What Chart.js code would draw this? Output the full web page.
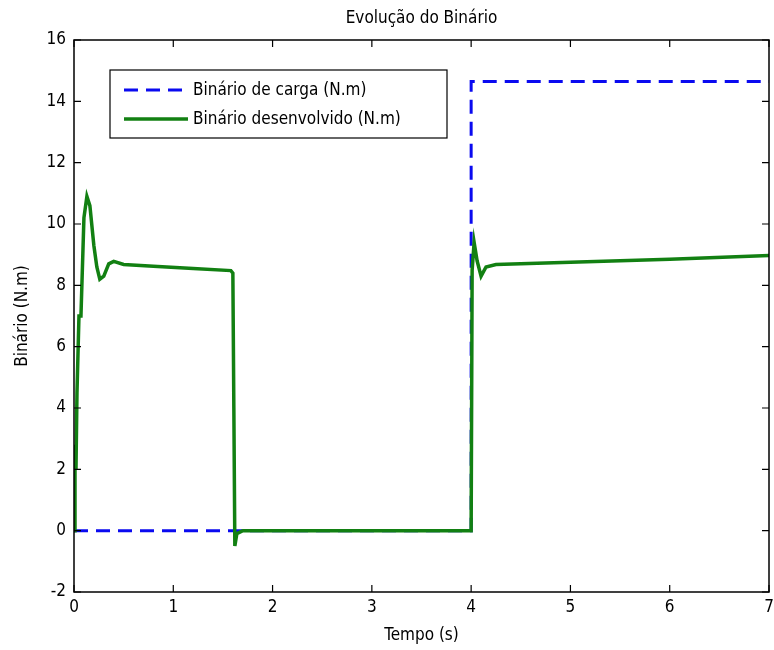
<!DOCTYPE html>
<html>
<head>
<meta charset="utf-8">
<script src="https://cdn.jsdelivr.net/npm/chart.js@4.4.1/dist/chart.umd.min.js"></script>
<style>
  html, body { margin: 0; padding: 0; background: #fff; }
  canvas { display: block; }
</style>
</head>
<body>
<canvas id="binario" width="774" height="650"></canvas>
<script>
const FONT = '"Liberation Sans Narrow", "DejaVu Sans Condensed", "Liberation Sans", sans-serif';

// tempo (s) e binário de carga (N.m)
const cargaTempo = [0, 4.0, 4.0, 7];
const cargaValor = [0, 0, 14.65, 14.65];

// tempo (s) e binário desenvolvido (N.m)
const motorTempo = [0, 0.01, 0.02, 0.03, 0.05, 0.07, 0.1, 0.13, 0.16, 0.2, 0.23, 0.26, 0.3, 0.35, 0.4,
  0.5, 0.8, 1.2, 1.58, 1.6, 1.61, 1.62, 1.64, 1.7, 4.0, 4.01, 4.03, 4.06, 4.1, 4.15, 4.25, 5, 6, 7];
const motorValor = [0, 2.8, 2.0, 4.5, 7.0, 7.0, 10.2, 10.9, 10.6, 9.3, 8.6, 8.2, 8.3, 8.7, 8.78,
  8.68, 8.62, 8.55, 8.48, 8.4, 4.0, -0.5, -0.1, 0, 0, 8.5, 9.4, 8.8, 8.3, 8.6, 8.68, 8.75, 8.85, 8.97];

const xTicks = [0, 1, 2, 3, 4, 5, 6, 7];
const yTicks = [-2, 0, 2, 4, 6, 8, 10, 12, 14, 16];

const pares = (xs, ys) => xs.map((x, i) => ({ x: x, y: ys[i] }));

// moldura, marcas interiores, título e legenda ao estilo MATLAB
const molduraPlugin = {
  id: 'moldura',
  afterDraw(chart) {
    const { ctx, chartArea: a, scales } = chart;
    ctx.save();
    ctx.strokeStyle = '#000';
    ctx.lineWidth = 1.5;
    ctx.strokeRect(a.left, a.top, a.right - a.left, a.bottom - a.top);
    ctx.lineWidth = 1.2;
    ctx.beginPath();
    xTicks.forEach(v => {
      const px = scales.x.getPixelForValue(v);
      ctx.moveTo(px, a.bottom); ctx.lineTo(px, a.bottom - 7);
      ctx.moveTo(px, a.top); ctx.lineTo(px, a.top + 7);
    });
    yTicks.forEach(v => {
      const py = scales.y.getPixelForValue(v);
      ctx.moveTo(a.left, py); ctx.lineTo(a.left + 7, py);
      ctx.moveTo(a.right, py); ctx.lineTo(a.right - 7, py);
    });
    ctx.stroke();

    // título
    ctx.fillStyle = '#000';
    ctx.font = '17px ' + FONT;
    ctx.textAlign = 'center';
    ctx.textBaseline = 'middle';
    ctx.fillText('Evolução do Binário', (a.left + a.right) / 2, 19);

    // legenda
    const bx = 110, by = 70, bw = 337, bh = 68;
    ctx.fillStyle = '#fff';
    ctx.fillRect(bx, by, bw, bh);
    ctx.strokeStyle = '#000';
    ctx.lineWidth = 1.2;
    ctx.strokeRect(bx, by, bw, bh);
    ctx.font = '17px ' + FONT;
    ctx.textAlign = 'left';
    chart.data.datasets.forEach((ds, i) => {
      const ly = by + 20 + i * 29;
      ctx.strokeStyle = ds.borderColor;
      ctx.lineWidth = ds.borderWidth;
      ctx.setLineDash(ds.borderDash || []);
      ctx.beginPath();
      ctx.moveTo(bx + 14, ly);
      ctx.lineTo(bx + 78, ly);
      ctx.stroke();
      ctx.setLineDash([]);
      ctx.fillStyle = '#000';
      ctx.fillText(ds.label, bx + 83, ly + 1);
    });
    ctx.restore();
  }
};

new Chart(document.getElementById('binario'), {
  type: 'line',
  data: {
    datasets: [
      {
        label: 'Binário de carga (N.m)',
        data: pares(cargaTempo, cargaValor),
        borderColor: '#0a0af0',
        borderWidth: 3,
        borderDash: [14, 8],
        pointRadius: 0,
        tension: 0,
        order: 1,
      },
      {
        label: 'Binário desenvolvido (N.m)',
        data: pares(motorTempo, motorValor),
        borderColor: '#128012',
        borderWidth: 3.5,
        pointRadius: 0,
        tension: 0,
        order: 0,
      },
    ],
  },
  options: {
    responsive: false,
    animation: false,
    layout: { padding: { top: 40, right: 5, left: 12, bottom: 0 } },
    plugins: {
      legend: { display: false },
      tooltip: { enabled: false },
    },
    scales: {
      x: {
        type: 'linear',
        min: 0,
        max: 7,
        afterBuildTicks: s => { s.ticks = xTicks.map(v => ({ value: v })); },
        afterFit: s => { s.height = 58; s.paddingRight = 0; s.paddingLeft = 0; },
        grid: { display: false, drawTicks: false },
        border: { display: false },
        ticks: { color: '#000', padding: 5, font: { family: FONT, size: 17 } },
        title: {
          display: true,
          text: 'Tempo (s)',
          color: '#000',
          padding: { top: 4, bottom: 4 },
          font: { family: FONT, size: 17 },
        },
      },
      y: {
        min: -2,
        max: 16,
        afterBuildTicks: s => { s.ticks = yTicks.map(v => ({ value: v })); },
        afterFit: s => { s.width = 62; },
        grid: { display: false, drawTicks: false },
        border: { display: false },
        ticks: { color: '#000', padding: 8, font: { family: FONT, size: 17 } },
        title: {
          display: true,
          text: 'Binário (N.m)',
          color: '#000',
          padding: { top: 0, bottom: 0 },
          font: { family: FONT, size: 17 },
        },
      },
    },
  },
  plugins: [molduraPlugin],
});
</script>
</body>
</html>
